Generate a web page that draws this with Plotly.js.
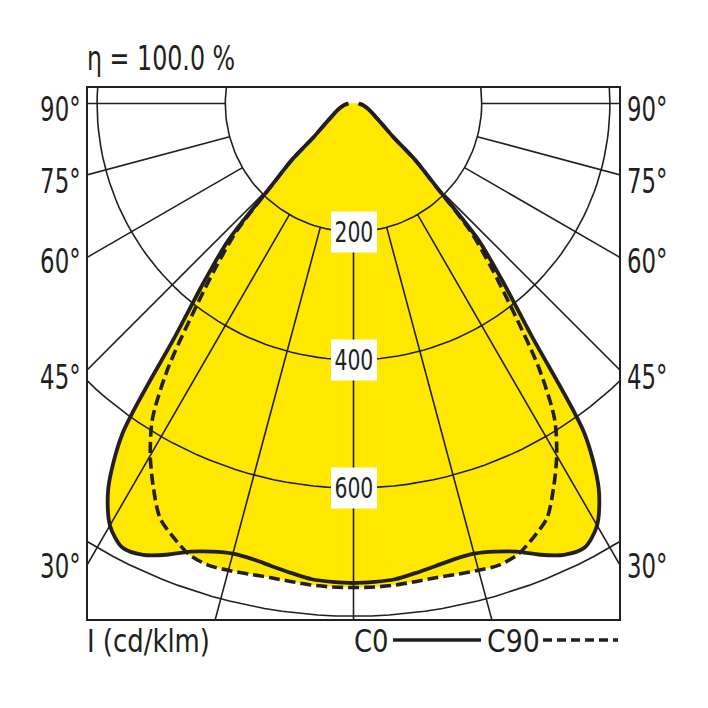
<!DOCTYPE html>
<html><head><meta charset="utf-8">
<script src="https://cdn.plot.ly/plotly-3.0.1.min.js"></script>
<style>html,body{margin:0;padding:0;background:#fff;}#chart{width:708px;height:708px;}</style>
</head><body><div id="chart"></div>
<script>
// Angles measured from nadir (degrees) and luminous intensity (cd/klm)
const angles = [0,2.5,5,7.5,10,12.5,15,17.5,20,22.5,25,27.5,30,32.5,35,37.5,40,42.5,45,47.5,50,55,60,65,70,75,80,85,90];
const c0Values  = [748,747,745,739,733,728,727,733,744,762,777,781,760,712,628,455,362,288,180,131,80,52,38,30,24,19,15,11,8];
const c90Values = [755,755,754,752,751,752,754,755,749,733,714,676,634,584,505,410,335,270,178,131,80,52,38,30,24,19,15,11,8];
const ringValues = [200,400,600,800];
const ringLabels = ['200','400','600'];
const spokeAngles = [-90,-75,-60,-45,-30,-15,0,15,30,45,60,75,90];
const edgeAngles = [90,75,60,45,30];
const edgeLabels = ['90°','75°','60°','45°','30°'];
const etaText = 'η = 100.0 %';
const unitText = 'I (cd/klm)';
const seriesNames = ['C0','C90'];

const INK = '#231f20';
const YELLOW = '#FFE800';
const FONT = '"DejaVu Sans Condensed", "Liberation Sans Narrow", sans-serif';
const HALF_W = 414.2;       // half width of the box in cd/klm
const Y_TOP = 24.2, Y_BOT = -804.2;
const rad = d => d * Math.PI / 180;

function profile(vals) {
  const xs = [], ys = [];
  for (let i = angles.length - 1; i >= 0; i--) {
    const a = -angles[i];
    xs.push(vals[i] * Math.sin(rad(a))); ys.push(-vals[i] * Math.cos(rad(a)));
  }
  for (let i = 1; i < angles.length; i++) {
    const a = angles[i];
    xs.push(vals[i] * Math.sin(rad(a))); ys.push(-vals[i] * Math.cos(rad(a)));
  }
  return {x: xs, y: ys};
}

const p0 = profile(c0Values), p90 = profile(c90Values);

// grid rings
const rx = [], ry = [];
ringValues.forEach(r => {
  for (let t = 0; t <= 360; t += 2) { rx.push(r * Math.cos(rad(t))); ry.push(r * Math.sin(rad(t))); }
  rx.push(null); ry.push(null);
});
// spokes from the first ring outward
const sx = [], sy = [];
spokeAngles.forEach(a => {
  [ringValues[0], 2000].forEach(r => { sx.push(r * Math.sin(rad(a))); sy.push(-r * Math.cos(rad(a))); });
  sx.push(null); sy.push(null);
});

const traces = [
  {x: p90.x, y: p90.y, mode: 'lines', fill: 'toself', fillcolor: YELLOW, line: {width: 0, shape: 'spline', smoothing: 0.8, color: YELLOW}, hoverinfo: 'skip'},
  {x: p0.x, y: p0.y, mode: 'lines', fill: 'toself', fillcolor: YELLOW, line: {width: 0, shape: 'spline', smoothing: 0.8, color: YELLOW}, hoverinfo: 'skip'},
  {x: rx, y: ry, mode: 'lines', line: {color: INK, width: 1.6}, hoverinfo: 'skip'},
  {x: sx, y: sy, mode: 'lines', line: {color: INK, width: 1.6}, hoverinfo: 'skip'},
  {x: p90.x, y: p90.y, mode: 'lines', name: seriesNames[1], line: {color: INK, width: 3.6, dash: '11px,5px', shape: 'spline', smoothing: 0.8}, hoverinfo: 'skip'},
  {x: p0.x, y: p0.y, mode: 'lines', name: seriesNames[0], line: {color: INK, width: 3.8, shape: 'spline', smoothing: 0.8}, hoverinfo: 'skip'}
];

const annotations = [];
const squeeze = [];   // horizontal condensing per annotation (font is wider than the original narrow face)
ringLabels.forEach((t, i) => {
  annotations.push({x: 0, y: -ringValues[i], xref: 'x', yref: 'y', text: t, showarrow: false,
    bgcolor: '#ffffff', borderpad: 3, font: {family: FONT, size: 29, color: INK}});
  squeeze.push(0.78);
});
const edgeShift = [-6, -7, -5, -8, -3];
edgeAngles.forEach((a, i) => {
  const yv = a === 90 ? 0 : -HALF_W / Math.tan(rad(a));
  annotations.push({x: 0, xref: 'paper', y: yv, yref: 'y', xanchor: 'right', align: 'right', xshift: -5, yshift: edgeShift[i],
    text: edgeLabels[i], showarrow: false, font: {family: FONT, size: 33, color: INK}});
  squeeze.push(0.77);
  annotations.push({x: 1, xref: 'paper', y: yv, yref: 'y', xanchor: 'left', align: 'left', xshift: 6, yshift: edgeShift[i],
    text: edgeLabels[i], showarrow: false, font: {family: FONT, size: 33, color: INK}});
  squeeze.push(0.77);
});
annotations.push({x: 0, xref: 'paper', y: 1, yref: 'paper', xanchor: 'left', align: 'left', yanchor: 'bottom', xshift: -3, yshift: 8,
  text: etaText, showarrow: false, font: {family: FONT, size: 33, color: INK}});
squeeze.push(0.8);
annotations.push({x: 0, xref: 'paper', y: 0, yref: 'paper', xanchor: 'left', align: 'left', yanchor: 'top', xshift: -3, yshift: -1,
  text: unitText, showarrow: false, font: {family: FONT, size: 32, color: INK}});
squeeze.push(0.9);
annotations.push({x: 0, xref: 'x', y: 0, yref: 'paper', xanchor: 'left', align: 'left', yanchor: 'top', xshift: -2, yshift: -1,
  text: seriesNames[0], showarrow: false, font: {family: FONT, size: 32, color: INK}});
squeeze.push(0.9);
annotations.push({x: (487 - 88) / 531, xref: 'paper', y: 0, yref: 'paper', xanchor: 'left', align: 'left', yanchor: 'top', xshift: -2, yshift: -1,
  text: seriesNames[1], showarrow: false, font: {family: FONT, size: 32, color: INK}});
squeeze.push(0.93);

const legY = (619 - 640) / 531;
const shapes = [
  {type: 'line', xref: 'paper', yref: 'paper', x0: (393 - 88) / 531, x1: (481 - 88) / 531, y0: legY, y1: legY, line: {color: INK, width: 3.6}},
  {type: 'line', xref: 'paper', yref: 'paper', x0: (543 - 88) / 531, x1: (618 - 88) / 531, y0: legY, y1: legY, line: {color: INK, width: 3.6, dash: '9px,5px'}}
];

const axisCommon = {showgrid: false, zeroline: false, showticklabels: false, ticks: '', showline: true, mirror: true,
  linecolor: INK, linewidth: 2.4, fixedrange: true};

const layout = {
  width: 708, height: 708,
  margin: {l: 88, r: 89, t: 88, b: 89},
  paper_bgcolor: '#ffffff', plot_bgcolor: '#ffffff',
  showlegend: false, hovermode: false,
  xaxis: Object.assign({range: [-HALF_W, HALF_W]}, axisCommon),
  yaxis: Object.assign({range: [Y_BOT, Y_TOP]}, axisCommon),
  annotations: annotations, shapes: shapes
};

Plotly.newPlot('chart', traces, layout, {staticPlot: true, displayModeBar: false}).then(gd => {
  gd.querySelectorAll('g.annotation').forEach(g => {
    const idx = +g.getAttribute('data-index');
    const f = squeeze[idx];
    const t = g.querySelector('text.annotation-text');
    if (!t || !f) return;
    const w = t.getComputedTextLength();
    const nw = w * f;
    t.setAttribute('textLength', nw);
    t.setAttribute('lengthAdjust', 'spacingAndGlyphs');
    const rect = g.querySelector('rect.bg');
    if (rect && annotations[idx].bgcolor) {
      const rx0 = parseFloat(rect.getAttribute('x')) || 0;
      const rw = parseFloat(rect.getAttribute('width')) || 0;
      const d = w - nw;
      rect.setAttribute('x', rx0 + d / 2);
      rect.setAttribute('width', rw - d);
    }
  });
});
</script></body></html>
